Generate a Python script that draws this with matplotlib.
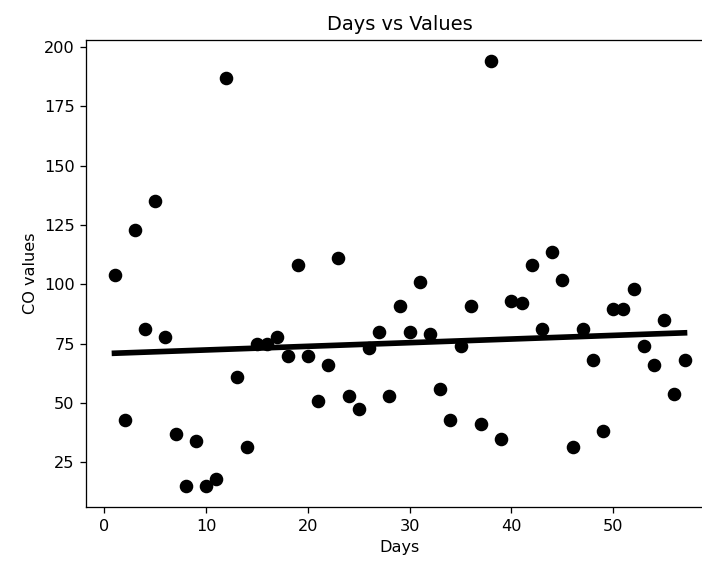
import numpy as np
import matplotlib
matplotlib.use("Agg")
import matplotlib.pyplot as plt

days = list(range(1, 58))
co_values = [104, 43, 123, 81, 135, 78, 37, 15, 34, 15,
             18, 187, 61, 31.5, 75, 75, 78, 70, 108, 70,
             51, 66, 111, 53, 47.5, 73, 80, 53, 91, 80,
             101, 79, 56, 43, 74, 91, 41, 194, 35, 93,
             92, 108, 81, 113.5, 102, 31.5, 81, 68, 38, 89.5,
             89.5, 98, 74, 66, 85, 54, 68]

x = np.array(days, dtype=float)
y = np.array(co_values, dtype=float)
slope, intercept = np.polyfit(x, y, 1)

DPI = 116
fig = plt.figure(figsize=(702 / DPI, 561 / DPI), dpi=DPI)
ax = fig.add_axes([86 / 702, 1 - 507.3 / 561, (713 - 86) / 702, (507.3 - 40) / 561])
ax.scatter(x, y, s=55, c="black", zorder=3)
ax.plot(x, slope * x + intercept, color="black", linewidth=3.5, zorder=2)
ax.set_title("Days vs Values")
ax.set_xlabel("Days")
ax.set_ylabel("CO values")
fig.savefig("out.png", dpi=DPI)
